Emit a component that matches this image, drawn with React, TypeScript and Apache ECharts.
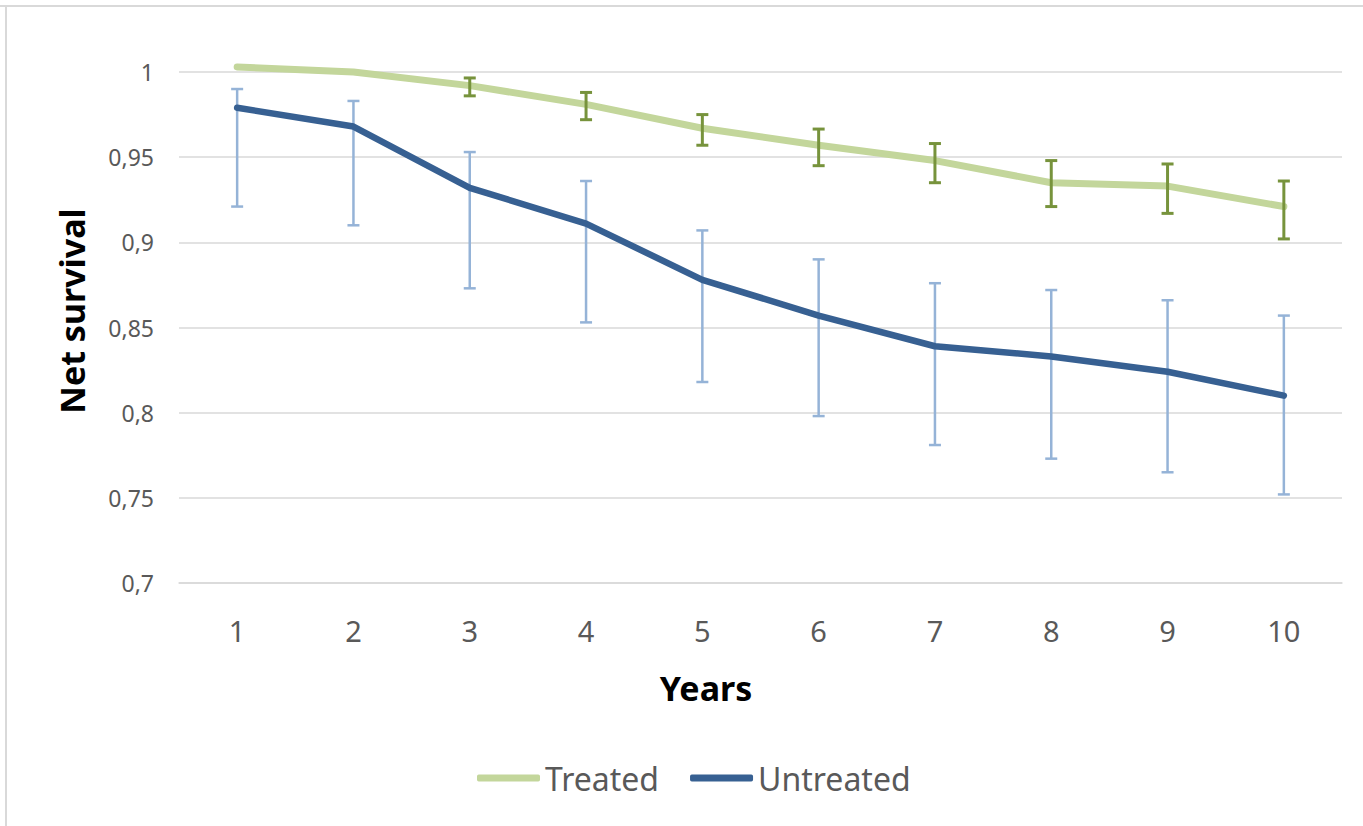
import React, { useEffect, useRef } from "react";
import * as echarts from "echarts";

const years = ["1", "2", "3", "4", "5", "6", "7", "8", "9", "10"];
const treated = [1.003, 1.0, 0.992, 0.981, 0.967, 0.957, 0.948, 0.935, 0.933, 0.921];
const treatedLow = [null, null, 0.986, 0.972, 0.957, 0.945, 0.935, 0.921, 0.917, 0.902];
const treatedHigh = [null, null, 0.9965, 0.988, 0.975, 0.9665, 0.958, 0.948, 0.946, 0.936];
const untreated = [0.979, 0.968, 0.932, 0.911, 0.878, 0.857, 0.839, 0.833, 0.824, 0.81];
const untreatedLow = [0.921, 0.91, 0.873, 0.853, 0.818, 0.798, 0.781, 0.773, 0.765, 0.752];
const untreatedHigh = [0.99, 0.983, 0.953, 0.936, 0.907, 0.89, 0.876, 0.872, 0.866, 0.857];

const yMin = 0.7;
const yMax = 1;
const yStep = 0.05;

const xTitle = "Years";
const yTitle = "Net survival";

const LABEL = "#595959";
const GRID = "#D9D9D9";
const FONT = "'Noto Sans', 'Open Sans', sans-serif";

function errData(low: (number | null)[], high: (number | null)[]) {
  const out: number[][] = [];
  low.forEach((l, i) => {
    const h = high[i];
    if (l != null && h != null) out.push([i, l, h]);
  });
  return out;
}

function errRender(color: string, width: number, half: number) {
  return (params: any, api: any) => {
    const idx = api.value(0);
    const lo = api.coord([idx, api.value(1)]);
    const hi = api.coord([idx, api.value(2)]);
    const style = { stroke: color, lineWidth: width };
    return {
      type: "group",
      children: [
        { type: "line", shape: { x1: hi[0], y1: hi[1], x2: lo[0], y2: lo[1] }, style },
        { type: "line", shape: { x1: hi[0] - half, y1: hi[1], x2: hi[0] + half, y2: hi[1] }, style },
        { type: "line", shape: { x1: lo[0] - half, y1: lo[1], x2: lo[0] + half, y2: lo[1] }, style },
      ],
    };
  };
}

export default function App() {
  const ref = useRef<HTMLDivElement>(null);
  useEffect(() => {
    if (!ref.current) return;
    const chart = echarts.init(ref.current, null, { renderer: "svg" });
    chart.setOption({
      animation: false,
      backgroundColor: "#ffffff",
      textStyle: { fontFamily: FONT },
      graphic: [
        { type: "line", shape: { x1: 0, y1: 6, x2: 1363, y2: 6 }, style: { stroke: GRID, lineWidth: 2 } },
        { type: "line", shape: { x1: 6, y1: 6, x2: 6, y2: 826 }, style: { stroke: GRID, lineWidth: 2 } },
        {
          type: "text",
          x: 706,
          y: 688,
          style: {
            text: xTitle,
            fill: "#000000",
            font: `bold 34px ${FONT}`,
            align: "center",
            verticalAlign: "middle",
          },
        },
        {
          type: "text",
          x: 72,
          y: 311,
          rotation: Math.PI / 2,
          style: {
            text: yTitle,
            fill: "#000000",
            font: `bold 34px ${FONT}`,
            align: "center",
            verticalAlign: "middle",
          },
        },
      ],
      grid: { left: 179, right: 21, top: 72, bottom: 243, containLabel: false },
      legend: {
        left: 477,
        top: 762,
        padding: 0,
        itemWidth: 63,
        itemHeight: 7,
        itemGap: 31,
        textStyle: { fontSize: 32, color: LABEL, fontFamily: FONT, padding: [0, 0, 0, 0] },
        data: [
          { name: "Treated", icon: "roundRect" },
          { name: "Untreated", icon: "roundRect" },
        ],
      },
      xAxis: {
        type: "category",
        data: years,
        boundaryGap: true,
        axisLine: { show: true, lineStyle: { color: GRID, width: 1.5 } },
        axisTick: { show: false },
        axisLabel: { color: LABEL, fontSize: 29, margin: 33, fontFamily: FONT },
      },
      yAxis: {
        type: "value",
        min: yMin,
        max: yMax,
        interval: yStep,
        axisLine: { show: false },
        axisTick: { show: false },
        splitLine: { show: true, lineStyle: { color: GRID, width: 1.5 } },
        axisLabel: {
          color: LABEL,
          fontSize: 23,
          margin: 25,
          fontFamily: FONT,
          formatter: (v: number) => String(Math.round(v * 100) / 100).replace(".", ","),
        },
      },
      series: [
        {
          name: "Untreated CI",
          type: "custom",
          renderItem: errRender("#95B3D7", 2.5, 6),
          data: errData(untreatedLow, untreatedHigh),
          encode: { x: 0, y: [1, 2] },
          z: 1,
          clip: false,
        },
        {
          name: "Treated",
          type: "line",
          data: treated,
          symbol: "none",
          clip: false,
          lineStyle: { color: "#C3D69B", width: 7, cap: "round", join: "round" },
          itemStyle: { color: "#C3D69B" },
          z: 2,
        },
        {
          name: "Untreated",
          type: "line",
          data: untreated,
          symbol: "none",
          clip: false,
          lineStyle: { color: "#376092", width: 6.5, cap: "round", join: "round" },
          itemStyle: { color: "#376092" },
          z: 3,
        },
        {
          name: "Treated CI",
          type: "custom",
          renderItem: errRender("#77933C", 3, 6),
          data: errData(treatedLow, treatedHigh),
          encode: { x: 0, y: [1, 2] },
          z: 4,
          clip: false,
        },
      ],
    });
    return () => chart.dispose();
  }, []);
  return (
    <div
      ref={ref}
      style={{ position: "fixed", left: 0, top: 0, width: 1363, height: 826 }}
    />
  );
}
